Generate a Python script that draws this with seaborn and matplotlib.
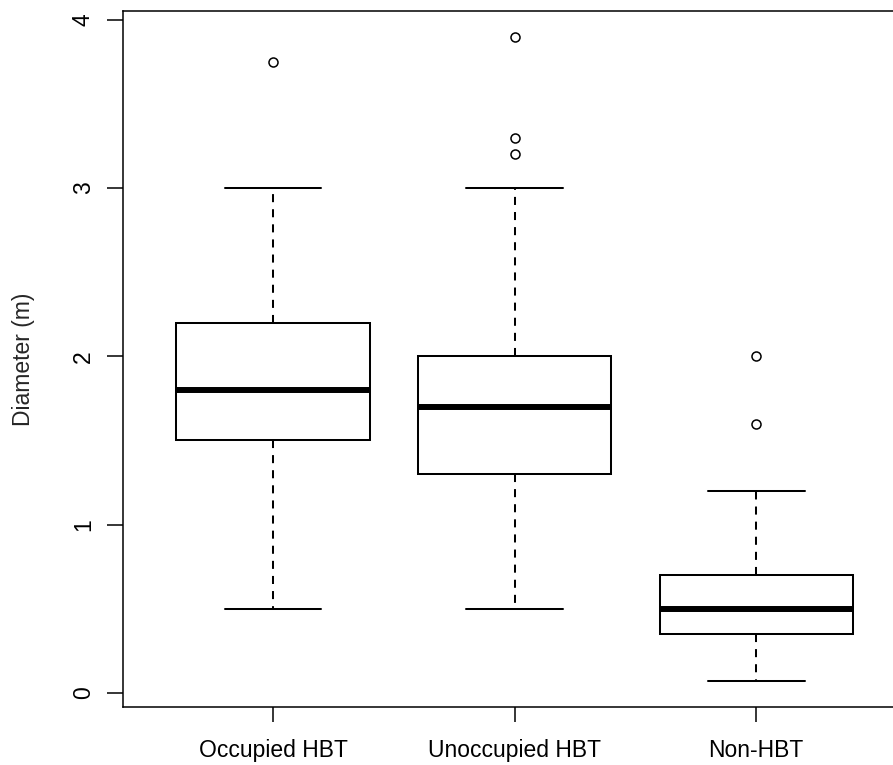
import numpy as np
import pandas as pd
import matplotlib
matplotlib.use("Agg")
import matplotlib.pyplot as plt
import seaborn as sns

# valores (observações que reproduzem quartis, bigodes e outliers)
grupos = ["Occupied HBT", "Unoccupied HBT", "Non-HBT"]
occupied = [0.5, 1.0, 1.5, 1.6, 1.8, 2.0, 2.2, 3.0, 3.75]
unoccupied = [0.5, 0.8, 1.0, 1.2, 1.3, 1.4, 1.5, 1.6, 1.7, 1.8, 1.9, 1.95, 2.0,
              3.0, 3.2, 3.3, 3.9]
non_hbt = [0.07, 0.2, 0.3, 0.35, 0.4, 0.45, 0.5, 0.6, 0.65, 0.7, 1.2, 1.6, 2.0]
yticks = [0, 1, 2, 3, 4]

df = pd.DataFrame({
    "grupo": [grupos[0]] * len(occupied) + [grupos[1]] * len(unoccupied)
             + [grupos[2]] * len(non_hbt),
    "diametro": occupied + unoccupied + non_hbt,
})

sns.set_style("ticks")
plt.rcParams["font.family"] = ["Liberation Sans", "DejaVu Sans"]

fig = plt.figure(figsize=(8.93, 7.65), dpi=100)
# eixo mais largo que a figura: o lado direito fica cortado como no original
ax = fig.add_axes([123.3 / 893, 58.3 / 765, 782.7 / 893, 695.7 / 765])

sns.boxplot(data=df, x="grupo", y="diametro", order=grupos, ax=ax,
            color="white", linecolor="black", linewidth=1.45, width=0.8,
            whis=1.5, saturation=1,
            whiskerprops=dict(linestyle=(0, (4, 3.5))),
            medianprops=dict(linewidth=4.3),
            flierprops=dict(marker="o", markersize=6.5, markerfacecolor="none",
                            markeredgecolor="black", markeredgewidth=1.1))

ax.set_xlim(0.38 - 1, 3.62 - 1)
ax.set_ylim(-0.083, 4.053)
ax.set_yticks(yticks)
ax.set_yticklabels([str(v) for v in yticks], rotation=90, va="center")
ax.set_xlabel("")
ax.set_ylabel("Diameter (m)", fontsize=16.5)
ax.yaxis.set_label_coords(-0.113, 0.5)

for s in ax.spines.values():
    s.set_visible(True)
    s.set_linewidth(1.1)
    s.set_color("black")
ax.tick_params(axis="x", length=11, width=1.1, pad=12, labelsize=16.5, colors="black")
ax.tick_params(axis="y", length=11.5, width=1.1, pad=9, labelsize=16.5, colors="black")

fig.savefig("out.png", dpi=100)
